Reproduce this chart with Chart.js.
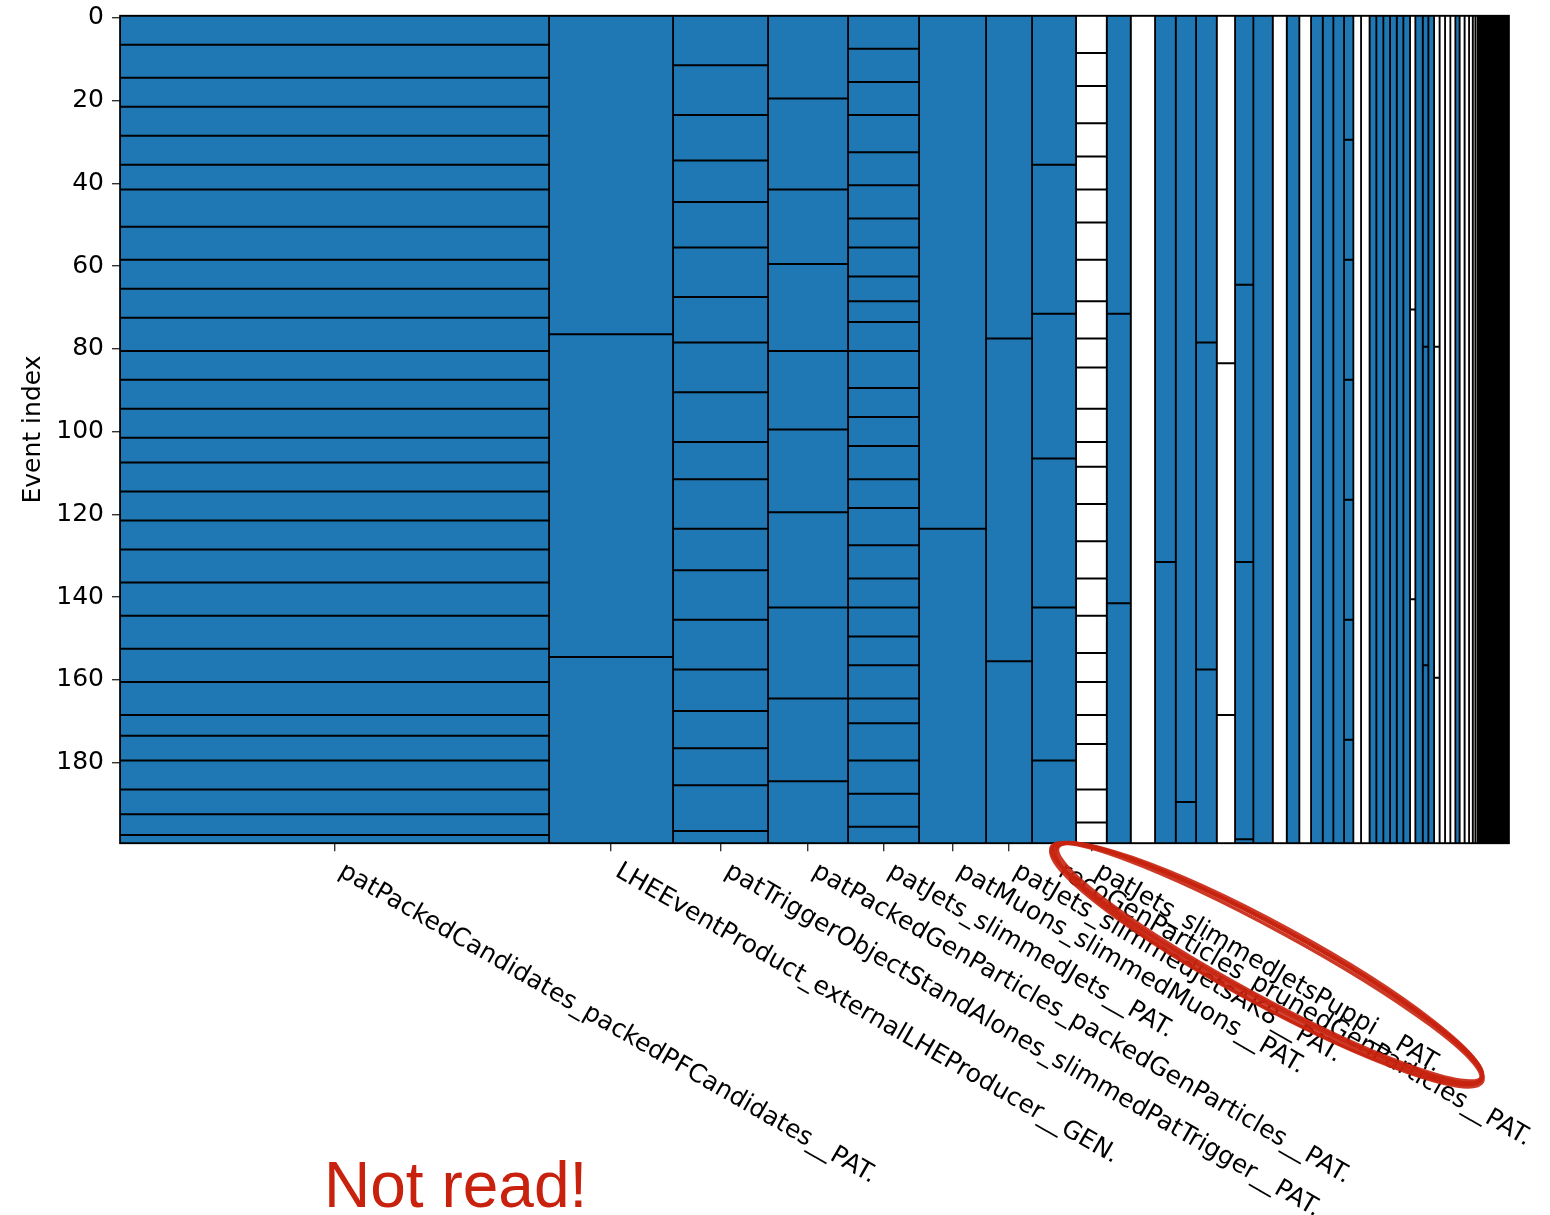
<!DOCTYPE html>
<html lang="en">
<head>
  <meta charset="UTF-8">
  <title>Basket layout</title>
  <script src="https://cdn.jsdelivr.net/npm/chart.js"></script>
  <style>
    html, body { margin: 0; padding: 0; background: #fff; }
    .chartContainer { position: relative; width: 1550px; height: 1215px; }
  </style>
</head>
<body>
  <div class="chartContainer">
    <canvas id="myChart"></canvas>
  </div>
  <script>
    // branch names (only the first ones get a tick label)
    const branchNames = [
      'patPackedCandidates_packedPFCandidates__PAT.',
      'LHEEventProduct_externalLHEProducer__GEN.',
      'patTriggerObjectStandAlones_slimmedPatTrigger__PAT.',
      'patPackedGenParticles_packedGenParticles__PAT.',
      'patJets_slimmedJets__PAT.',
      'patMuons_slimmedMuons__PAT.',
      'patJets_slimmedJetsAK8__PAT.',
      'recoGenParticles_prunedGenParticles__PAT.',
      'patJets_slimmedJetsPuppi__PAT.'
    ]

    // relative branch sizes (column widths)
    const branchSizes = [
      429, 124, 95, 80, 71, 67, 46, 44, 30.7, 24,
      24.3, 20.7, 20.3, 20.7, 18.3, 18.3, 19.4, 14, 12.6, 11.7,
      11.7, 10.6, 10.7, 9.3, 7.7, 8.5, 6.8, 7, 6.7, 6.7,
      6.6, 6.7, 5.3, 7.4, 5.6, 5.7, 5.5, 5.5, 5.3, 5.0,
      4.2, 5, 4.5, 3.7, 2.6, 2.2,
      1.5, 1.5, 1.5, 1.5, 1.5, 1.5, 1.5, 1.5, 1.5, 1.5,
      1.5, 1.5, 1.5, 1.5, 1.5, 1.5, 1.5, 1.5, 1.5, 1.5, 1.5
    ]

    // 1 = read (blue), 0 = not read (white)
    const branchRead = [
      1, 1, 1, 1, 1, 1, 1, 1, 0, 1,
      0, 1, 1, 1, 0, 1, 1, 0, 1, 0,
      1, 1, 1, 1, 0, 0, 1, 1, 1, 1,
      1, 1, 0, 1, 1, 1, 0, 0, 0, 0,
      1, 0, 0, 0, 0, 0,
      0, 0, 0, 0, 0, 0, 0, 0, 0, 0,
      0, 0, 0, 0, 0, 0, 0, 0, 0, 0, 0
    ]

    // first event index of every basket after the first one, per branch
    const basketStarts = [
      [7, 15, 22, 29, 36, 42, 51, 59, 66, 73, 81, 88, 95, 102, 108, 115, 122, 129, 137, 145, 153, 161, 169, 174, 180, 187, 193, 198],
      [77, 155],
      [12, 24, 35, 45, 56, 68, 79, 91, 103, 112, 124, 134, 146, 158, 168, 177, 186, 197],
      [20, 42, 60, 81, 100, 120, 143, 165, 185],
      [8, 16, 24, 33, 41, 49, 56, 63, 69, 74, 81, 90, 97, 104, 112, 119, 128, 136, 143, 150, 157, 165, 171, 180, 188, 196],
      [124],
      [78, 156],
      [36, 72, 107, 143, 180],
      [9, 17, 26, 34, 42, 50, 59, 69, 78, 85, 95, 103, 109, 118, 127, 136, 145, 154, 161, 169, 176, 187, 195],
      [72, 142],
      [],
      [132],
      [190],
      [79, 158],
      [84, 169],
      [65, 132, 199],
      [], [], [], [], [], [], [],
      [30, 59, 88, 117, 146, 175],
      [], [], [], [], [], [], [], [],
      [71, 141],
      [],
      [80, 157],
      [],
      [80, 160]
    ]

    const yTicks = [0, 20, 40, 60, 80, 100, 120, 140, 160, 180]
    const nEvents = 200

    const blue = '#1f77b4'
    const edgeColor = '#000000'
    const fontFamily = "'DejaVu Sans', sans-serif"

    // column edges along x
    const edges = [0]
    branchSizes.forEach(s => edges.push(edges[edges.length - 1] + s))
    const centers = branchNames.map((n, i) => (edges[i] + edges[i + 1]) / 2)

    const yTop = -0.5
    const yBottom = nEvents - 0.5

    const columnSets = branchSizes.map((s, i) => {
      const x0 = edges[i], x1 = edges[i + 1]
      return {
        data: [
          {x: x0, y: yTop}, {x: x1, y: yTop}, {x: x1, y: yBottom},
          {x: x0, y: yBottom}, {x: x0, y: yTop}
        ],
        showLine: true,
        fill: 'shape',
        backgroundColor: branchRead[i] ? blue : '#ffffff',
        borderColor: edgeColor,
        borderWidth: 1.7,
        borderJoinStyle: 'miter',
        pointRadius: 0,
        pointHoverRadius: 0,
        order: 1
      }
    })

    const basketPoints = []
    basketStarts.forEach((starts, i) => {
      starts.forEach(ev => {
        basketPoints.push({x: edges[i], y: ev - 0.5})
        basketPoints.push({x: edges[i + 1], y: ev - 0.5})
        basketPoints.push({x: edges[i + 1], y: null})
      })
    })

    const basketSet = {
      data: basketPoints,
      showLine: true,
      fill: false,
      spanGaps: false,
      borderColor: edgeColor,
      borderWidth: 2,
      pointRadius: 0,
      pointHoverRadius: 0,
      order: 0
    }

    // frame, rotated tick labels and the red annotation
    const extras = {
      id: 'extras',
      afterDraw(chart) {
        const ctx = chart.ctx
        const area = chart.chartArea
        const xs = chart.scales.x
        ctx.save()
        ctx.strokeStyle = '#000'
        ctx.lineWidth = 1.7
        ctx.strokeRect(area.left, area.top, area.right - area.left, area.bottom - area.top)

        ctx.fillStyle = '#000'
        ctx.font = '25px ' + fontFamily
        ctx.textAlign = 'left'
        ctx.textBaseline = 'alphabetic'
        branchNames.forEach((name, i) => {
          const px = xs.getPixelForValue(centers[i])
          ctx.save()
          ctx.translate(px + 3, area.bottom + 32)
          ctx.rotate(30 * Math.PI / 180)
          ctx.fillText(name, 0, 0)
          ctx.restore()
        })

        // hand drawn ellipse, a few rough passes
        ctx.strokeStyle = 'rgba(200, 35, 15, 0.9)'
        ctx.lineWidth = 3.5
        const cx = 1268, cy = 963
        const rot = 28.5 * Math.PI / 180
        ;[[0, 0, 243, 37], [2, -1, 241, 35], [-1, 2, 245, 39], [1, 1, 242, 40], [-2, 0, 244, 34]].forEach(e => {
          ctx.beginPath()
          ctx.ellipse(cx + e[0], cy + e[1], e[2], e[3], rot, 0, Math.PI * 2)
          ctx.stroke()
        })

        ctx.fillStyle = '#c8210e'
        ctx.font = "64px 'Liberation Sans', Arial, sans-serif"
        ctx.fillText('Not read!', 324, 1207)
        ctx.restore()
      }
    }

    const config = {
      type: 'scatter',
      data: { datasets: [basketSet].concat(columnSets) },
      options: {
        responsive: false,
        animation: false,
        devicePixelRatio: 1,
        events: [],
        layout: { padding: { left: 0, top: 15.7, right: 41, bottom: 0 } },
        plugins: { legend: { display: false }, tooltip: { enabled: false } },
        scales: {
          x: {
            type: 'linear',
            min: 0,
            max: edges[edges.length - 1],
            border: { display: false },
            grid: { drawOnChartArea: false, drawTicks: true, tickLength: 8, color: '#333', lineWidth: 1.4 },
            ticks: { display: false, autoSkip: false },
            afterBuildTicks: scale => { scale.ticks = centers.map(v => ({value: v})) },
            afterFit: scale => {
              scale.height = 1215 - 843.3
              scale.paddingLeft = 0
              scale.paddingRight = 0
            }
          },
          y: {
            type: 'linear',
            reverse: true,
            min: yTop,
            max: yBottom,
            border: { display: false },
            grid: { drawOnChartArea: false, drawTicks: true, tickLength: 8, color: '#333', lineWidth: 1.4 },
            ticks: { color: '#000', padding: 8, font: { family: fontFamily, size: 25 } },
            afterBuildTicks: scale => { scale.ticks = yTicks.map(v => ({value: v})) },
            afterFit: scale => {
              scale.width = 120
              scale.paddingTop = 0
              scale.paddingBottom = 0
            },
            title: {
              display: true,
              text: 'Event index',
              color: '#000',
              padding: { top: 18, bottom: 0 },
              font: { family: fontFamily, size: 25 }
            }
          }
        }
      },
      plugins: [extras]
    }

    const canvas = document.getElementById('myChart')
    canvas.width = 1550
    canvas.height = 1215
    const myChart = new Chart(canvas, config)
  </script>
</body>
</html>
